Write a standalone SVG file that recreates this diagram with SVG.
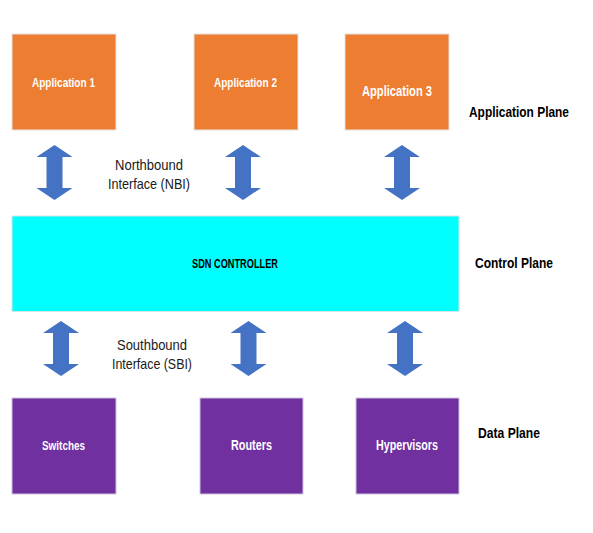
<svg xmlns="http://www.w3.org/2000/svg" xmlns:xlink="http://www.w3.org/1999/xlink" width="593" height="533" viewBox="0 0 593 533">
<style>
.app{fill:#ED7D31;stroke:#e3e3e3;stroke-width:1}
.data{fill:#7030A0;stroke:#cfc3dc;stroke-width:1}
.ctrl{fill:#00FFFF;stroke:#d6e6e6;stroke-width:1}
.arrow{fill:#4472C4}
text{font-family:"Liberation Sans",Arial,sans-serif}
.wt{fill:#ffffff;font-weight:bold;text-anchor:middle}
.bt{fill:#000000;font-weight:bold;text-anchor:middle}
.lt{fill:#1a1a1a;text-anchor:middle;font-size:14.5px}
</style>
<defs>
<path id="dblarrow" class="arrow" d="M0,0 L18,12 L8,12 L8,43 L18,43 L0,55 L-18,43 L-8,43 L-8,12 L-18,12 Z"/>
</defs>
<rect width="593" height="533" fill="#ffffff"/>
<g id="connectors">
<use xlink:href="#dblarrow" transform="translate(54.5,145)"/>
<use xlink:href="#dblarrow" transform="translate(243,145)"/>
<use xlink:href="#dblarrow" transform="translate(402,145)"/>
<use xlink:href="#dblarrow" transform="translate(61,321)"/>
<use xlink:href="#dblarrow" transform="translate(248.5,321)"/>
<use xlink:href="#dblarrow" transform="translate(405,321)"/>
</g>
<g id="app1"><rect class="app" x="12" y="34" width="104" height="96"/><text class="wt" x="63.5" y="86.5" font-size="13.5" textLength="63" lengthAdjust="spacingAndGlyphs">Application 1</text></g>
<g id="app2"><rect class="app" x="194" y="34" width="104" height="96"/><text class="wt" x="245.5" y="86.5" font-size="13.5" textLength="63" lengthAdjust="spacingAndGlyphs">Application 2</text></g>
<g id="app3"><rect class="app" x="345" y="34" width="104" height="96"/><text class="wt" x="397" y="96" font-size="14.5" textLength="70" lengthAdjust="spacingAndGlyphs">Application 3</text></g>
<g id="controller"><rect class="ctrl" x="12" y="216" width="447" height="95.5"/><text class="bt" x="235" y="267.5" font-size="12" textLength="86" lengthAdjust="spacingAndGlyphs">SDN CONTROLLER</text></g>
<g id="switches"><rect class="data" x="12" y="398" width="104" height="96"/><text class="wt" x="63.5" y="449.5" font-size="13" textLength="43" lengthAdjust="spacingAndGlyphs">Switches</text></g>
<g id="routers"><rect class="data" x="200" y="398" width="103" height="96"/><text class="wt" x="251.5" y="450" font-size="14" textLength="41" lengthAdjust="spacingAndGlyphs">Routers</text></g>
<g id="hypervisors"><rect class="data" x="356" y="398" width="103" height="96"/><text class="wt" x="407" y="450" font-size="14" textLength="62" lengthAdjust="spacingAndGlyphs">Hypervisors</text></g>
<g id="labels">
<text class="bt" x="519" y="117" font-size="14" textLength="100" lengthAdjust="spacingAndGlyphs">Application Plane</text>
<text class="bt" x="514" y="268" font-size="14.5" textLength="78" lengthAdjust="spacingAndGlyphs">Control Plane</text>
<text class="bt" x="509" y="437.5" font-size="14.5" textLength="62" lengthAdjust="spacingAndGlyphs">Data Plane</text>
<text class="lt" x="149" y="170" textLength="68" lengthAdjust="spacingAndGlyphs">Northbound</text>
<text class="lt" x="149" y="188.5" textLength="82" lengthAdjust="spacingAndGlyphs">Interface (NBI)</text>
<text class="lt" x="152" y="350" textLength="70" lengthAdjust="spacingAndGlyphs">Southbound</text>
<text class="lt" x="152" y="368.5" textLength="80" lengthAdjust="spacingAndGlyphs">Interface (SBI)</text>
</g>
</svg>
